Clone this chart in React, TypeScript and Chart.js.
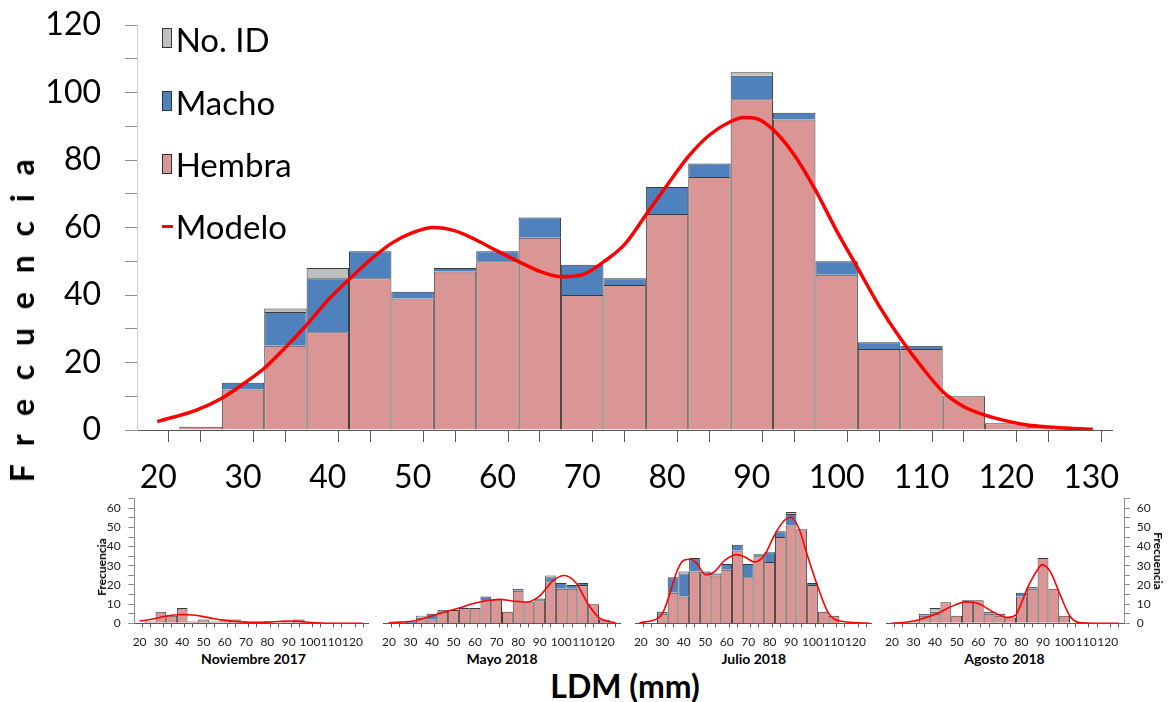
import React, { useEffect, useRef } from "react";
import { Chart, registerables } from "chart.js";
Chart.register(...registerables);

const FONT = "Lato, 'Open Sans', sans-serif";
const PINK = "#DA9694";
const BLUE = "#4F81BD";
const GRAY = "#BFBFBF";
const EDGE = "rgba(25,25,25,0.85)";
const RED = "#FF0000";

// ---------- Main histogram (all samples) ----------
const mainBins = [20, 25, 30, 35, 40, 45, 50, 55, 60, 65, 70, 75, 80, 85, 90, 95, 100, 105, 110, 115, 120, 125, 130];
const mainHembra = [0, 1, 12, 25, 29, 45, 39, 47, 50, 57, 40, 43, 64, 75, 98, 92, 46, 24, 24, 10, 2, 1, 0];
const mainMacho = [0, 0, 2, 10, 16, 8, 2, 1, 3, 6, 9, 2, 8, 4, 7, 2, 4, 2, 1, 0, 0, 0, 0];
const mainNoId = [0, 0, 0, 1, 3, 0, 0, 0, 0, 0, 0, 0, 0, 0, 1, 0, 0, 0, 0, 0, 0, 0, 0];
const mainModelX = [19.9, 24.5, 27.5, 30.4, 32.5, 35.1, 37.5, 40.2, 42.5, 45, 47.5, 50, 52.5, 55, 57.5, 60, 62.5, 65, 67.5, 70, 72.5, 75, 77.5, 80, 82.5, 85, 87.5, 89, 90.5, 92.5, 95, 97.5, 100, 102.5, 105, 107.5, 110, 112.5, 115, 117.5, 120, 122.5, 125, 127.5, 130.2];
const mainModelY = [2.5, 5.9, 9.4, 14.3, 18.3, 24.7, 31.1, 39, 44.6, 50.4, 55.3, 58.5, 60, 59, 56.3, 53, 49.9, 47, 45.4, 46, 49.8, 55, 63.7, 72.5, 81, 87.4, 91.4, 92.6, 92.3, 89, 81.5, 71.1, 59, 47.9, 36.8, 27.2, 18.8, 11.4, 6.9, 4.4, 2.7, 1.5, 0.9, 0.5, 0.2];
const mainXLabels = [20, 30, 40, 50, 60, 70, 80, 90, 100, 110, 120, 130];
const mainYLabels = [0, 20, 40, 60, 80, 100, 120];

// ---------- Monthly histograms ----------
const smallBins = [20, 25, 30, 35, 40, 45, 50, 55, 60, 65, 70, 75, 80, 85, 90, 95, 100, 105, 110, 115, 120, 125];
const smallXLabels = [20, 30, 40, 50, 60, 70, 80, 90, 100, 110, 120];
const smallYLabels = [0, 10, 20, 30, 40, 50, 60];

// Noviembre 2017
const novHembra = [0, 1, 6, 4, 8, 1, 2, 1, 2, 2, 0, 0, 1, 0, 1, 2, 0, 0, 0, 0, 0, 0];
const novMacho = [0, 0, 0, 0, 0, 0, 0, 0, 0, 0, 0, 0, 0, 0, 0, 0, 0, 0, 0, 0, 0, 0];
const novNoId = [0, 0, 0, 0, 0, 0, 0, 0, 0, 0, 0, 0, 0, 0, 0, 0, 0, 0, 0, 0, 0, 0];
const novModelX = [20, 25, 30, 35, 40, 45, 50, 55, 60, 65, 70, 75, 80, 85, 90, 95, 100, 105, 110, 115, 120, 125];
const novModelY = [1.2, 2, 3.2, 4.2, 4.6, 4.3, 3.5, 2.4, 1.6, 1, 0.6, 0.5, 0.6, 0.9, 1.2, 1, 0.4, 0.1, 0, 0, 0, 0];

// Mayo 2018
const mayHembra = [0, 0, 0, 2, 2, 6, 7, 8, 8, 12, 12, 6, 17, 11, 12, 22, 18, 18, 20, 10, 2, 0];
const mayMacho = [0, 0, 1, 1, 3, 1, 0, 0, 0, 2, 0, 0, 1, 0, 1, 2, 3, 2, 1, 0, 0, 0];
const mayNoId = [0, 0, 0, 1, 0, 0, 0, 0, 0, 0, 0, 0, 0, 0, 0, 1, 0, 0, 0, 0, 0, 0];
const mayModelX = [20, 25, 31.6, 37, 42.3, 47.5, 53.1, 57.5, 62.3, 67, 71.5, 77.6, 83.8, 89.9, 96, 101.4, 106.8, 112.1, 117.5, 125.2];
const mayModelY = [0.3, 0.6, 1.2, 2.8, 4.7, 6.4, 8.1, 9.8, 11.1, 12, 12.5, 11.6, 11.1, 14.2, 22, 24.9, 21.1, 10.7, 2.9, 0.3];

// Julio 2018
const julHembra = [0, 0, 5, 16, 14, 27, 26, 25, 28, 38, 24, 35, 32, 45, 51, 49, 20, 6, 4, 0, 0, 0];
const julMacho = [0, 0, 1, 8, 12, 7, 1, 1, 3, 3, 7, 1, 5, 3, 6, 0, 1, 0, 0, 0, 0, 0];
const julNoId = [0, 0, 0, 0, 1, 0, 0, 0, 0, 0, 0, 0, 0, 0, 1, 0, 0, 0, 0, 0, 0, 0];
const julModelX = [19.3, 27.8, 30.1, 32.8, 37, 40, 43.1, 46.2, 50, 53.8, 59.2, 64.6, 68.4, 73, 77.6, 82.2, 86.8, 89.9, 93.7, 97.6, 102.2, 107.5, 114.4, 126.7];
const julModelY = [0.2, 2.6, 5.2, 13, 27.7, 32.9, 33.4, 31.1, 25.4, 26.5, 32.9, 35.8, 34.6, 32, 35.5, 45.8, 53.6, 55.4, 49.3, 35.5, 19.9, 5.2, 0.9, 0];

// Agosto 2018
const agoHembra = [0, 0, 1, 4, 5, 11, 4, 12, 12, 5, 4, 3, 14, 18, 34, 18, 4, 0, 0, 0, 0, 0];
const agoMacho = [0, 0, 0, 1, 1, 0, 0, 0, 0, 1, 1, 0, 2, 1, 0, 0, 0, 0, 0, 0, 0, 0];
const agoNoId = [0, 0, 0, 0, 2, 0, 0, 0, 0, 0, 0, 0, 0, 0, 0, 0, 0, 0, 0, 0, 0, 0];
const agoModelX = [19.8, 25, 32.1, 41.3, 47.4, 54.3, 59.7, 67.3, 73.5, 77.3, 79.6, 82.7, 87.3, 89.6, 93.4, 98, 102.6, 107.2, 124.9];
const agoModelY = [0, 0.4, 1.7, 5.2, 8.7, 11.2, 10.4, 5.7, 3.1, 4.3, 9.5, 18.2, 27.7, 30.6, 26.8, 14.7, 3.5, 0.3, 0];

// ---------- helpers ----------
function pts(xs: number[], ys: number[], nullZero: boolean) {
  return xs.map((x, i) => ({ x, y: nullZero && ys[i] === 0 ? null : ys[i] }));
}

function isEdge(v: number) {
  const k = (v - 17.5) / 5;
  return Math.abs(k - Math.round(k)) < 1e-6;
}

function xTicks(bins: number[], labels: number[]) {
  const s = new Set<number>();
  bins.forEach((c) => {
    s.add(c - 2.5);
    s.add(c + 2.5);
  });
  labels.forEach((l) => s.add(l));
  return Array.from(s)
    .sort((a, b) => a - b)
    .map((value) => ({ value }));
}

function datasets(bins: number[], h: number[], m: number[], n: number[], mx: number[], my: number[], lw: number) {
  // tick spacing is half a bin, so the bar fills two tick intervals
  const bar = (label: string, data: number[], color: string) => ({
    type: "bar" as const,
    label,
    data: pts(bins, data, true),
    backgroundColor: color,
    borderColor: EDGE,
    borderWidth: 1,
    barPercentage: 1,
    categoryPercentage: 2,
    stack: "s",
    yAxisID: "y",
    order: 1,
  });
  return [
    bar("Hembra", h, PINK),
    bar("Macho", m, BLUE),
    bar("No. ID", n, GRAY),
    {
      type: "line" as const,
      label: "Modelo",
      data: pts(mx, my, false),
      borderColor: RED,
      borderWidth: lw,
      pointRadius: 0,
      fill: false,
      cubicInterpolationMode: "monotone" as const,
      yAxisID: "yLine",
      order: 0,
    },
  ];
}

function mainConfig(): any {
  const ticksArr = xTicks(mainBins, mainXLabels);
  return {
    type: "bar",
    data: { datasets: datasets(mainBins, mainHembra, mainMacho, mainNoId, mainModelX, mainModelY, 3.5) },
    options: {
      responsive: false,
      devicePixelRatio: 1,
      animation: false,
      events: [],
      layout: { padding: { left: 0, right: 1169 - 1112.3, top: 25, bottom: 0 } },
      plugins: { legend: { display: false }, tooltip: { enabled: false }, title: { display: false } },
      scales: {
        x: {
          type: "linear",
          min: 17.5,
          max: 132.5,
          offset: false,
          stacked: true,
          afterBuildTicks: (s: any) => {
            s.ticks = ticksArr.map((t) => ({ ...t }));
          },
          afterFit: (s: any) => {
            s.height = 70;
          },
          ticks: {
            autoSkip: false,
            maxRotation: 0,
            minRotation: 0,
            padding: 16,
            color: "#000",
            font: { family: FONT, size: 32 },
            callback: (v: number) => (mainXLabels.includes(v) ? String(v) : ""),
          },
          grid: {
            drawOnChartArea: false,
            drawTicks: true,
            tickLength: 12,
            tickWidth: 1,
            tickColor: (ctx: any) => (ctx.tick && isEdge(ctx.tick.value) ? "#595959" : "rgba(0,0,0,0)"),
          },
          border: { display: true, color: "#595959", width: 1 },
        },
        y: {
          type: "linear",
          min: 0,
          max: 120,
          stacked: true,
          afterFit: (s: any) => {
            s.width = 137;
            s.paddingTop = 0;
            s.paddingBottom = 0;
          },
          ticks: {
            stepSize: 10,
            autoSkip: false,
            padding: 24,
            color: "#000",
            font: { family: FONT, size: 32 },
            callback: (v: number) => (mainYLabels.includes(v) ? String(v) : ""),
          },
          grid: { drawOnChartArea: false, drawTicks: true, tickLength: 12, tickColor: "#8c8c8c" },
          border: { display: true, color: "#d0d0d0", width: 1 },
        },
        yLine: { type: "linear", display: false, min: 0, max: 120, stacked: false },
      },
    },
  };
}

type SmallLayout = { padL: number; padR: number; yPos: "left" | "right" | "none"; yW: number };

function smallConfig(
  h: number[],
  m: number[],
  n: number[],
  mx: number[],
  my: number[],
  L: SmallLayout
): any {
  const ticksArr = xTicks(smallBins, smallXLabels);
  return {
    type: "bar",
    data: { datasets: datasets(smallBins, h, m, n, mx, my, 1.6) },
    options: {
      responsive: false,
      devicePixelRatio: 1,
      animation: false,
      events: [],
      layout: { padding: { left: L.padL, right: L.padR, top: 8.7, bottom: 0 } },
      plugins: { legend: { display: false }, tooltip: { enabled: false } },
      scales: {
        x: {
          type: "linear",
          min: 17.5,
          max: 127.5,
          offset: false,
          stacked: true,
          afterBuildTicks: (s: any) => {
            s.ticks = ticksArr.map((t) => ({ ...t }));
          },
          afterFit: (s: any) => {
            s.height = 26.7;
          },
          ticks: {
            autoSkip: false,
            maxRotation: 0,
            minRotation: 0,
            padding: 7.5,
            color: "#222",
            font: { family: FONT, size: 12 },
            callback: (v: number) => (smallXLabels.includes(v) ? String(v) : ""),
          },
          grid: {
            drawOnChartArea: false,
            drawTicks: true,
            tickLength: 4,
            tickWidth: 1,
            tickColor: (ctx: any) => (ctx.tick && isEdge(ctx.tick.value) ? "#595959" : "rgba(0,0,0,0)"),
          },
          border: { display: true, color: "#595959", width: 1 },
        },
        y: {
          type: "linear",
          display: L.yPos !== "none",
          position: L.yPos === "right" ? "right" : "left",
          min: 0,
          max: 65,
          stacked: true,
          afterFit: (s: any) => {
            s.width = L.yW;
            s.paddingTop = 0;
            s.paddingBottom = 0;
          },
          ticks: {
            stepSize: 5,
            autoSkip: false,
            padding: L.yPos === "right" ? 6.7 : 7.6,
            color: "#222",
            font: { family: FONT, size: 12 },
            callback: (v: number) => (smallYLabels.includes(v) ? String(v) : ""),
          },
          grid: { drawOnChartArea: false, drawTicks: true, tickLength: 6, tickColor: "#8c8c8c" },
          border: { display: true, color: "#8c8c8c", width: 1 },
        },
        yLine: { type: "linear", display: false, min: 0, max: 65, stacked: false },
      },
    },
  };
}

const Txt = (p: { x: number; y: number; size: number; bold?: boolean; rot?: number; ls?: number; left?: boolean; children: any }) => (
  <div
    style={{
      position: "absolute",
      left: p.x,
      top: p.y,
      transform: p.left ? "translate(0,-50%)" : `translate(-50%,-50%) rotate(${p.rot || 0}deg)`,
      fontFamily: FONT,
      fontSize: p.size,
      fontWeight: p.bold ? 700 : 400,
      lineHeight: 1,
      letterSpacing: p.ls || 0,
      whiteSpace: "nowrap",
      color: "#000",
    }}
  >
    {p.children}
  </div>
);

const Swatch = (p: { y: number; color: string }) => (
  <div
    style={{
      position: "absolute",
      left: 162,
      top: p.y,
      width: 10,
      height: 20,
      boxSizing: "border-box",
      background: p.color,
      border: "1px solid #333",
    }}
  />
);

export default function App() {
  const mainRef = useRef<HTMLCanvasElement>(null);
  const r1 = useRef<HTMLCanvasElement>(null);
  const r2 = useRef<HTMLCanvasElement>(null);
  const r3 = useRef<HTMLCanvasElement>(null);
  const r4 = useRef<HTMLCanvasElement>(null);

  useEffect(() => {
    const charts: Chart[] = [];
    charts.push(new Chart(mainRef.current!, mainConfig()));
    charts.push(
      new Chart(r1.current!, smallConfig(novHembra, novMacho, novNoId, novModelX, novModelY, { padL: 0, padR: 3.3, yPos: "left", yW: 74.3 }))
    );
    charts.push(
      new Chart(r2.current!, smallConfig(mayHembra, mayMacho, mayNoId, mayModelX, mayModelY, { padL: 6.7, padR: 6.3, yPos: "none", yW: 0 }))
    );
    charts.push(
      new Chart(r3.current!, smallConfig(julHembra, julMacho, julNoId, julModelX, julModelY, { padL: 6.3, padR: 5.7, yPos: "none", yW: 0 }))
    );
    charts.push(
      new Chart(r4.current!, smallConfig(agoHembra, agoMacho, agoNoId, agoModelX, agoModelY, { padL: 6, padR: 0, yPos: "right", yW: 45 }))
    );
    return () => charts.forEach((c) => c.destroy());
  }, []);

  const cv = (left: number, top: number, w: number, h: number) => ({
    position: "absolute" as const,
    left,
    top,
    width: w,
    height: h,
  });

  return (
    <div style={{ position: "relative", width: 1169, height: 702, background: "#fff", overflow: "hidden" }}>
      <style>{`html,body{margin:0;padding:0;background:#fff;}`}</style>
      <canvas ref={mainRef} width={1169} height={500} style={cv(0, 0, 1169, 500)} />
      <canvas ref={r1} width={316} height={160} style={cv(60, 490, 316, 160)} />
      <canvas ref={r2} width={252} height={160} style={cv(376, 490, 252, 160)} />
      <canvas ref={r3} width={251} height={160} style={cv(628, 490, 251, 160)} />
      <canvas ref={r4} width={290} height={160} style={cv(879, 490, 290, 160)} />

      {/* legend */}
      <Swatch y={28.3} color={GRAY} />
      <Swatch y={91} color={BLUE} />
      <Swatch y={153.5} color={PINK} />
      <div style={{ position: "absolute", left: 161.7, top: 225.2, width: 11.6, height: 3, background: RED }} />
      <Txt x={175.7} y={38.5} size={33} left>No. ID</Txt>
      <Txt x={175.7} y={101.5} size={33} left>Macho</Txt>
      <Txt x={175.7} y={164} size={33} left>Hembra</Txt>
      <Txt x={175.7} y={225.5} size={33} left>Modelo</Txt>

      {/* axis titles */}
      <Txt x={22} y={318} size={32} bold rot={-90} ls={5.5}>F r e c u e n c i a</Txt>
      <Txt x={102} y={567} size={12} bold rot={-90}>Frecuencia</Txt>
      <Txt x={1158} y={561} size={12} bold rot={90}>Frecuencia</Txt>

      <Txt x={253.5} y={659} size={14} bold>Noviembre 2017</Txt>
      <Txt x={502} y={659} size={14} bold>Mayo 2018</Txt>
      <Txt x={753.8} y={659} size={14} bold>Julio 2018</Txt>
      <Txt x={1004.5} y={659} size={14} bold>Agosto 2018</Txt>
      <Txt x={625} y={686} size={32} bold>LDM (mm)</Txt>
    </div>
  );
}
